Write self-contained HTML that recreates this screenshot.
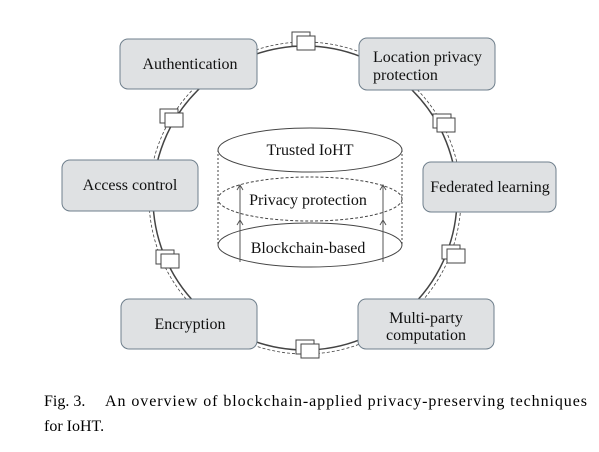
<!DOCTYPE html><html><head><style>body{margin:0;background:#fff}svg text{font-family:"Liberation Serif","Times New Roman",serif}</style></head><body>
<svg width="599" height="447" xmlns="http://www.w3.org/2000/svg">
<circle cx="305" cy="198" r="152" fill="none" stroke="#444" stroke-width="1.5"/>
<circle cx="305" cy="198" r="156" fill="none" stroke="#444" stroke-width="0.8" stroke-dasharray="3,2"/>
<g fill="#fff" stroke="#444">
<rect x="292" y="32" width="18" height="14"/><rect x="297" y="36" width="18" height="14"/>
<rect x="160" y="109" width="18" height="14"/><rect x="165" y="113" width="18" height="14"/>
<rect x="433" y="114" width="18" height="14"/><rect x="437" y="118" width="18" height="14"/>
<rect x="156" y="250" width="18" height="14"/><rect x="161" y="254" width="18" height="14"/>
<rect x="442" y="245" width="18" height="14"/><rect x="447" y="249" width="18" height="14"/>
<rect x="296" y="340" width="18" height="14"/><rect x="301" y="344" width="18" height="14"/>
</g>
<g fill="#dfe1e3" stroke="#6f7f8c" stroke-width="1">
<rect x="120" y="39" width="137" height="50" rx="8"/>
<rect x="359" y="38" width="136" height="52" rx="8"/>
<rect x="62" y="160" width="136" height="51" rx="8"/>
<rect x="423" y="162" width="133" height="50" rx="8"/>
<rect x="121" y="299" width="136" height="50" rx="8"/>
<rect x="358" y="299" width="136" height="50" rx="8"/>
</g>
<g font-size="16" fill="#111">
<text x="190" y="69" text-anchor="middle">Authentication</text>
<text x="373" y="62">Location privacy</text><text x="373" y="80">protection</text>
<text x="130" y="190" text-anchor="middle">Access control</text>
<text x="490" y="192" text-anchor="middle">Federated learning</text>
<text x="190" y="329" text-anchor="middle">Encryption</text>
<text x="426" y="323" text-anchor="middle">Multi-party</text>
<text x="426" y="340" text-anchor="middle">computation</text>
</g>
<rect x="218" y="150" width="184" height="95" fill="#fff" stroke="none"/>
<path d="M218 150V245M402 150V245" stroke="#444" stroke-dasharray="2,2"/>
<ellipse cx="310" cy="245" rx="92" ry="22" fill="none" stroke="#444"/>
<ellipse cx="310" cy="199" rx="92" ry="22" fill="none" stroke="#444" stroke-dasharray="3,2"/>
<ellipse cx="310" cy="150" rx="92" ry="22" fill="#fff" stroke="#444"/>
<g stroke="#555" fill="none">
<path d="M240 222V186M237 190l3-5 3 5M383 222V186M380 190l3-5 3 5M240 262V221M237 225l3-5 3 5M383 262V221M380 225l3-5 3 5"/>
</g>
<g font-size="16" fill="#111" text-anchor="middle">
<text x="310" y="155">Trusted IoHT</text>
<text x="308" y="205">Privacy protection</text>
<text x="308" y="253">Blockchain-based</text>
</g>
<g font-size="16" fill="#000">
<text x="44" y="406">Fig. 3.</text>
<text x="105" y="406" textLength="482" lengthAdjust="spacing">An overview of blockchain-applied privacy-preserving techniques</text>
<text x="44" y="431">for IoHT.</text>
</g>
</svg></body></html>
